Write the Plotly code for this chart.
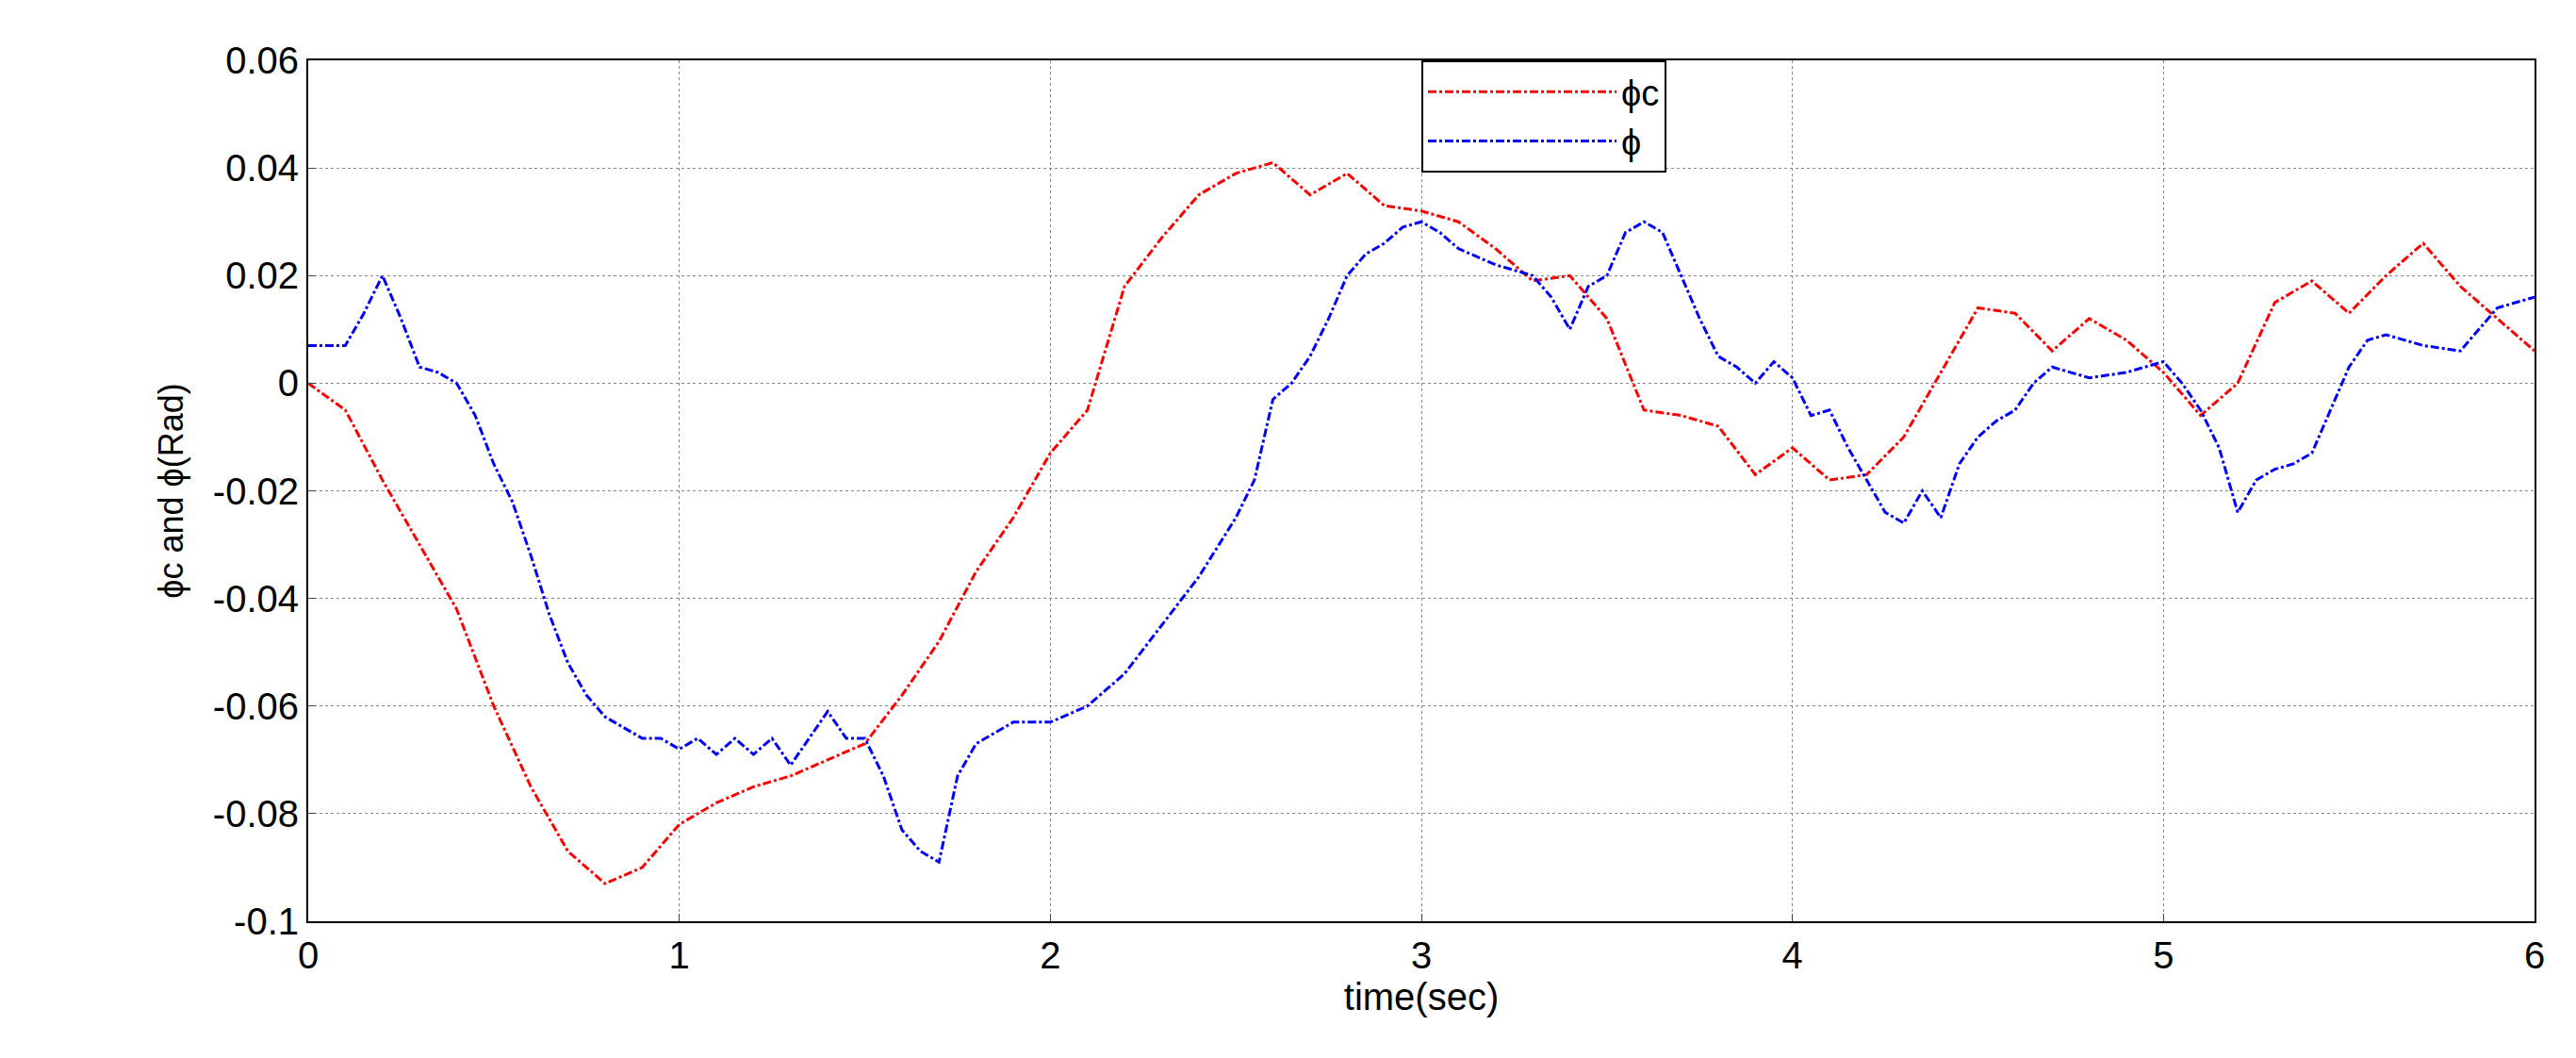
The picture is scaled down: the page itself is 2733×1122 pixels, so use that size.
import plotly.graph_objects as go

t_c = [round(0.1 * i, 1) for i in range(61)]
phi_c = [0, -0.005, -0.018, -0.03, -0.042, -0.06, -0.075, -0.087, -0.093, -0.09,
         -0.082, -0.078, -0.075, -0.073, -0.07, -0.067, -0.058, -0.048, -0.035, -0.025,
         -0.013, -0.005, 0.018, 0.027, 0.035, 0.039, 0.041, 0.035, 0.039, 0.033,
         0.032, 0.03, 0.025, 0.019, 0.02, 0.012, -0.005, -0.006, -0.008, -0.017,
         -0.012, -0.018, -0.017, -0.01, 0.002, 0.014, 0.013, 0.006, 0.012, 0.008,
         0.002, -0.006, 0.0, 0.015, 0.019, 0.013, 0.02, 0.026, 0.018, 0.012, 0.006]

t_p = [0, 0.1, 0.15, 0.2, 0.25, 0.3, 0.35, 0.4, 0.45, 0.5, 0.55, 0.6, 0.65, 0.7, 0.75,
       0.8, 0.85, 0.9, 0.95, 1.0, 1.05, 1.1, 1.15, 1.2, 1.25, 1.3, 1.35, 1.4, 1.45, 1.5,
       1.55, 1.6, 1.65, 1.7, 1.75, 1.8, 1.85, 1.9, 2.0, 2.1, 2.2, 2.3, 2.4, 2.5, 2.55,
       2.6, 2.65, 2.7, 2.75, 2.8, 2.85, 2.9, 2.95, 3.0, 3.05, 3.1, 3.2, 3.3, 3.35, 3.4,
       3.45, 3.5, 3.55, 3.6, 3.65, 3.7, 3.75, 3.8, 3.85, 3.9, 3.95, 4.0, 4.05, 4.1, 4.15,
       4.2, 4.25, 4.3, 4.35, 4.4, 4.45, 4.5, 4.55, 4.6, 4.65, 4.7, 4.8, 4.9, 5.0, 5.05,
       5.1, 5.15, 5.2, 5.25, 5.3, 5.35, 5.4, 5.45, 5.5, 5.55, 5.6, 5.7, 5.8, 5.85, 5.9, 6.0]
phi = [0.007, 0.007, 0.013, 0.02, 0.012, 0.003, 0.002, 0.0, -0.006, -0.015, -0.022,
       -0.032, -0.043, -0.052, -0.058, -0.062, -0.064, -0.066, -0.066, -0.068, -0.066,
       -0.069, -0.066, -0.069, -0.066, -0.071, -0.066, -0.061, -0.066, -0.066, -0.073,
       -0.083, -0.087, -0.089, -0.073, -0.067, -0.065, -0.063, -0.063, -0.06, -0.054,
       -0.045, -0.036, -0.025, -0.018, -0.003, 0.0, 0.005, 0.012, 0.02, 0.024, 0.026,
       0.029, 0.03, 0.028, 0.025, 0.022, 0.02, 0.016, 0.01, 0.018, 0.02, 0.028, 0.03,
       0.028, 0.02, 0.012, 0.005, 0.003, 0.0, 0.004, 0.001, -0.006, -0.005, -0.012,
       -0.018, -0.024, -0.026, -0.02, -0.025, -0.015, -0.01, -0.007, -0.005, 0.0, 0.003,
       0.001, 0.002, 0.004, 0.0, -0.005, -0.012, -0.024, -0.018, -0.016, -0.015, -0.013,
       -0.005, 0.003, 0.008, 0.009, 0.007, 0.006, 0.01, 0.014, 0.016]

y_ticks = [-0.1, -0.08, -0.06, -0.04, -0.02, 0, 0.02, 0.04, 0.06]
y_labels = ['-0.1', '-0.08', '-0.06', '-0.04', '-0.02', '0', '0.02', '0.04', '0.06']

fig = go.Figure()
fig.add_trace(go.Scatter(x=t_c, y=phi_c, mode='lines', name='\u03d5c',
                         line=dict(color='red', width=3, dash='dashdot')))
fig.add_trace(go.Scatter(x=t_p, y=phi, mode='lines', name='\u03d5',
                         line=dict(color='blue', width=3, dash='dashdot')))

grid = dict(showgrid=True, gridcolor='#888', griddash='dot', gridwidth=1,
            showline=True, linecolor='black', linewidth=2, mirror=True,
            ticks='inside', ticklen=8, zeroline=False,
            tickfont=dict(size=40, color='black', family='Liberation Sans'))

fig.update_layout(
    width=2733, height=1122,
    plot_bgcolor='white', paper_bgcolor='white',
    margin=dict(l=319, r=52, t=56, b=153),
    font=dict(family='Liberation Sans', color='black'),
    xaxis=dict(range=[0, 6], dtick=1, title=dict(text='time(sec)', font=dict(size=40), standoff=4), **grid),
    yaxis=dict(range=[-0.1, 0.06], tickvals=y_ticks, ticktext=y_labels,
               title=dict(text='\u03d5c and \u03d5(Rad)', font=dict(size=36), standoff=20), **grid),
    legend=dict(x=0.5, y=1, xanchor='left', yanchor='top', bgcolor='white',
                bordercolor='black', borderwidth=2, font=dict(size=38),
                itemwidth=200, entrywidth=390),
)

fig.write_html("out.html")
